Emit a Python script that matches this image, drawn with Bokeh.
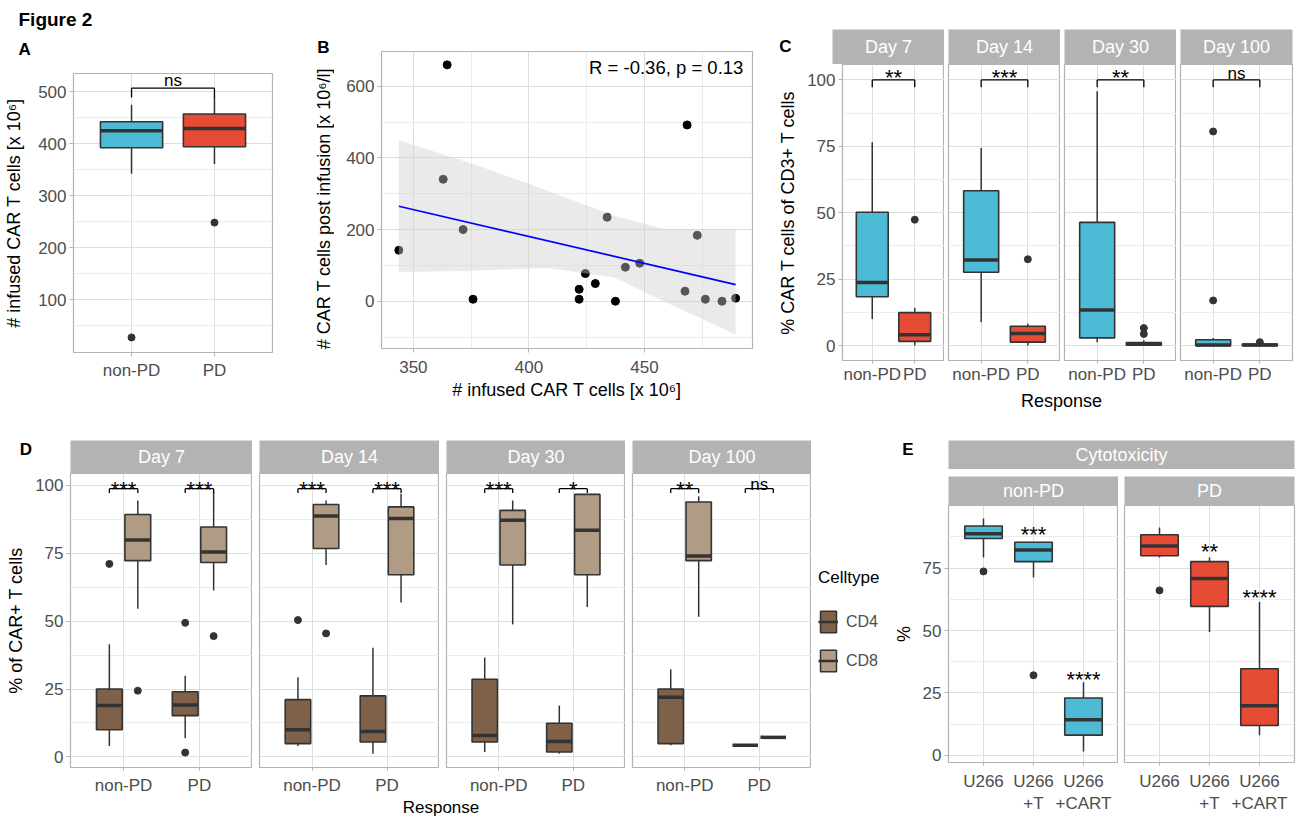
import math
from bokeh.plotting import figure
from bokeh.models import (FactorRange, Range1d, FixedTicker, Label, Legend, LegendItem,
                          ColumnDataSource)
from bokeh.layouts import row, column
from bokeh.transform import dodge
from bokeh.embed import file_html
from bokeh.resources import INLINE
from bokeh.core.properties import value

# ---------------------------------------------------------------- data
# Panel A
A_cats = ["non-PD", "PD"]
A_lower = [342, 361]
A_q1 = [392, 394]
A_median = [425, 429]
A_q3 = [442, 457]
A_upper = [475, 490]
A_out_cat = ["non-PD", "PD"]
A_out_val = [27, 248]
A_sig = ["ns"]
A_sig_y = [521]
A_bracket_y = [507]
A_bracket_tip = [489]

# Panel B
B_x = [364.6, 362.9, 371.5, 343.7, 375.8, 421.7, 421.7, 424.4, 428.7, 433.8,
       437.4, 441.7, 447.9, 468.4, 467.5, 472.8, 476.3, 483.5, 489.4]
B_y = [659.7, 340.4, 200.0, 142.3, 5.5, 33.4, 5.5, 77.3, 49.3, 234.4,
       0.0, 95.0, 106.0, 492.0, 28.0, 184.0, 5.5, 0.0, 8.3]
B_fit_x = [343.7, 489.4]
B_fit_y = [265.0, 46.5]
B_band_x = [343.7, 379.0, 407.8, 436.6, 458.2, 489.4]
B_band_upper = [450, 376, 309, 239, 202, 199]
B_band_lower = [81, 86, 93, 67, 0, -93]
B_stat = "R = -0.36, p = 0.13"

# Panel C
C_days = ["Day 7", "Day 14", "Day 30", "Day 100"]
C_resp = ["non-PD", "PD"]
C_lower = [[10.0, 0.0], [8.8, 0.0], [1.3, 0.0], [0.0, 0.0]]
C_q1 = [[18.4, 1.6], [27.6, 1.3], [2.9, 0.2], [0.0, 0.0]]
C_median = [[23.8, 4.1], [32.2, 4.6], [13.4, 0.5], [0.2, 0.2]]
C_q3 = [[50.2, 12.4], [58.3, 7.3], [46.4, 1.2], [2.2, 0.6]]
C_upper = [[76.5, 14.2], [74.4, 8.2], [95.7, 2.0], [2.9, 1.0]]
C_out_resp = [["PD"], ["PD"], ["PD", "PD"], ["non-PD", "non-PD", "PD"]]
C_out_val = [[47.4], [32.5], [4.4, 6.6], [17.0, 80.6, 1.3]]
C_sig = ["**", "***", "**", "ns"]
C_sig_y = [100.9, 100.9, 100.9, 102.4]
C_bracket_y = 100.0
C_bracket_tip = 97.2

# Panel D
D_days = ["Day 7", "Day 14", "Day 30", "Day 100"]
D_resp = ["non-PD", "non-PD", "PD", "PD"]
D_cell = ["CD4", "CD8", "CD4", "CD8"]
D_lower = [[4.0, 54.6, 6.9, 61.3], [4.0, 70.7, 1.2, 56.9], [1.8, 48.8, 1.2, 55.2], [4.3, 51.6, 4.3, 7.2]]
D_q1 = [[10.0, 72.3, 15.2, 71.6], [4.9, 76.8, 5.5, 67.1], [5.5, 70.7, 1.8, 67.1], [4.9, 72.3, 4.3, 7.2]]
D_median = [[18.9, 79.9, 19.1, 75.5], [10.0, 88.7, 9.4, 87.8], [7.9, 87.2, 5.7, 83.5], [22.0, 74.0, 4.3, 7.2]]
D_q3 = [[25.0, 89.3, 24.0, 84.7], [21.1, 93.0, 22.5, 92.1], [28.6, 90.8, 12.4, 96.7], [25.0, 93.9, 4.3, 7.2]]
D_upper = [[41.5, 94.5, 29.9, 97.6], [29.3, 94.5, 40.2, 96.9], [36.6, 94.5, 18.9, 96.7], [32.3, 96.0, 4.3, 7.2]]
D_out_resp = [["non-PD", "non-PD", "PD", "PD", "PD"], ["non-PD", "non-PD"], [], []]
D_out_cell = [["CD4", "CD8", "CD4", "CD4", "CD8"], ["CD4", "CD8"], [], []]
D_out_val = [[71.1, 24.4, 49.4, 1.6, 44.5], [50.4, 45.5], [], []]
D_sig = [["***", "***"], ["***", "***"], ["***", "*"], ["**", "ns"]]
D_sig_y = [[98.5, 98.5], [98.5, 98.5], [98.5, 98.5], [98.5, 100.3]]
D_bracket_y = 98.8
D_bracket_tip = 97.2
D_celltypes = ["CD4", "CD8"]

# Panel E
E_groups = ["non-PD", "PD"]
E_cats = ["U266", "U266\n+T", "U266\n+CART"]
E_lower = [[79.3, 71.3, 1.6], [79.3, 49.4, 8.1]]
E_q1 = [[86.9, 77.6, 8.1], [80.0, 59.7, 12.0]]
E_median = [[88.8, 82.3, 14.3], [83.9, 70.9, 19.9]]
E_q3 = [[91.9, 85.4, 23.0], [88.4, 77.6, 34.7]]
E_upper = [[94.9, 85.4, 29.3], [91.3, 79.3, 61.4]]
E_out_cat = [["U266", "U266\n+T"], ["U266"]]
E_out_val = [[73.7, 32.1], [66.1]]
E_sig_cat = [["U266\n+T", "U266\n+CART"], ["U266\n+T", "U266\n+CART"]]
E_sig = [["***", "****"], ["**", "****"]]
E_sig_y = [[88.3, 30.3], [81.8, 63.1]]

# ---------------------------------------------------------------- style
FONT = "Liberation Sans"
GRID_MAJOR = "#dedede"
GRID_MINOR = "#ececec"
BORDER = "#b3b3b3"
TICK_TEXT = "#4d4d4d"
DARK = "#333333"
STRIP_FILL = "#b3b3b3"
BLUE = "#4DBBD5"
RED = "#E64B35"
CELL_COLORS = {"CD4": "#7E6148", "CD8": "#B09C85"}
RESP_COLORS = {"non-PD": BLUE, "PD": RED}


def no_align(p):
    if "frame_align" in p.properties():
        p.frame_align = False
    return p


def base_fig(w, h, left, right, top, bottom, x_range, y_range, yticks, yminor):
    p = figure(width=w, height=h, x_range=x_range, y_range=y_range, output_backend="svg",
               toolbar_location=None, min_border_left=left, min_border_right=right,
               min_border_top=top, min_border_bottom=bottom)
    no_align(p)
    p.background_fill_color = "white"
    p.border_fill_color = "white"
    p.outline_line_color = BORDER
    p.outline_line_width = 1.2
    yt = FixedTicker(ticks=yticks, minor_ticks=yminor)
    p.yaxis.ticker = yt
    p.ygrid.ticker = yt
    p.ygrid.grid_line_color = GRID_MAJOR
    p.ygrid.minor_grid_line_color = GRID_MINOR
    p.xgrid.grid_line_color = GRID_MAJOR
    p.axis.axis_line_color = None
    p.axis.major_tick_line_color = BORDER
    p.axis.major_tick_out = 4
    p.axis.major_tick_in = 0
    p.axis.minor_tick_line_color = None
    p.axis.major_label_text_font = FONT
    p.axis.major_label_text_font_size = "17px"
    p.axis.major_label_text_color = TICK_TEXT
    p.axis.axis_label_text_font = FONT
    p.axis.axis_label_text_font_size = "18px"
    p.axis.axis_label_text_font_style = "normal"
    p.axis.axis_label_text_color = "black"
    p.axis.major_label_standoff = 3
    p.axis.axis_label_standoff = 5
    return p


def cat_range(cats):
    return FactorRange(factors=list(cats), range_padding=0.2, range_padding_units="absolute")


def strip_fig(w, h, left, right, top, text):
    s = figure(width=w, height=h, x_range=Range1d(0, 1), y_range=Range1d(0, 1),
               output_backend="svg", toolbar_location=None, x_axis_location=None,
               y_axis_location=None, min_border_left=left, min_border_right=right,
               min_border_top=top, min_border_bottom=0)
    no_align(s)
    s.grid.visible = False
    s.background_fill_color = STRIP_FILL
    s.border_fill_color = "white"
    s.outline_line_color = None
    s.add_layout(Label(x=0.5, y=0.5, text=text, text_align="center", text_baseline="middle",
                       text_color="white", text_font=FONT, text_font_size="18px"))
    return s


def text_fig(w, h):
    s = figure(width=w, height=h, output_backend="svg", toolbar_location=None,
               x_axis_location=None, y_axis_location=None, min_border=0)
    no_align(s)
    s.grid.visible = False
    s.outline_line_color = None
    s.background_fill_color = "white"
    s.border_fill_color = "white"
    return s


def add_text(p, text, x, y, size="18px", bold=False, align="center", angle=0.0):
    p.add_layout(Label(x=x, y=y, x_units="screen", y_units="screen", text=text,
                       text_font=FONT, text_font_size=size,
                       text_font_style="bold" if bold else "normal",
                       text_align=align, text_baseline="middle", angle=angle,
                       text_color="black"))


def boxes(p, cats, lower, q1, med, q3, upper, colors, width, offset=0.0):
    src = ColumnDataSource(dict(x=list(cats), lo=lower, q1=q1, med=med, q3=q3, hi=upper, c=colors))
    xc = dodge("x", offset, range=p.x_range)
    p.segment(x0=xc, y0="lo", x1=xc, y1="hi", source=src, line_color=DARK, line_width=1.5)
    p.vbar(x=dodge("x", offset, range=p.x_range), bottom="q1", top="q3", width=width, source=src,
           fill_color="c", line_color=DARK, line_width=1.6)
    p.segment(x0=dodge("x", offset - width / 2, range=p.x_range), y0="med",
              x1=dodge("x", offset + width / 2, range=p.x_range), y1="med", source=src,
              line_color=DARK, line_width=3.5)


def outliers(p, cats, vals, offset=0.0):
    src = ColumnDataSource(dict(x=list(cats), y=list(vals)))
    p.scatter(x=dodge("x", offset, range=p.x_range), y="y", source=src, size=7, color=DARK)


def sig_source(**cols):
    cols["fs"] = ["22px" if "*" in t else "17px" for t in cols["lab"]]
    return ColumnDataSource(cols)


def sig_text(p, src, x):
    p.text(x=x, y="ly", text="lab", source=src, text_align="center", text_baseline="middle",
           text_font=value(FONT), text_font_size="fs", text_color="black")


def bracket(p, src, xl, xr):
    p.segment(x0=xl, y0="y", x1=xr, y1="y", source=src, line_color="black", line_width=1.3)
    p.segment(x0=xl, y0="y", x1=xl, y1="tip", source=src, line_color="black", line_width=1.3)
    p.segment(x0=xr, y0="y", x1=xr, y1="tip", source=src, line_color="black", line_width=1.3)


# ---------------------------------------------------------------- panel A
headA = text_fig(300, 72)
add_text(headA, "Figure 2", 18, 53.5, size="19px", bold=True, align="left")
add_text(headA, "A", 18, 23, size="17px", bold=True, align="left")

pA = base_fig(300, 340, 73, 28, 1, 60, cat_range(A_cats), Range1d(-2, 535),
              [100, 200, 300, 400, 500], [50, 150, 250, 350, 450])
pA.yaxis.axis_label = "# infused CAR T cells [x 10\u2076]"
pA.yaxis.axis_label_standoff = 11
pA.xaxis.major_label_standoff = 4
boxes(pA, A_cats, A_lower, A_q1, A_median, A_q3, A_upper, [RESP_COLORS[c] for c in A_cats], 0.75)
outliers(pA, A_out_cat, A_out_val)
bA = sig_source(l=[A_cats[0]], r=[A_cats[1]], y=A_bracket_y, tip=A_bracket_tip, lab=A_sig, ly=A_sig_y)
bracket(pA, bA, "l", "r")
sig_text(pA, bA, dodge("l", 0.5, range=pA.x_range))
colA = column(headA, pA)

# ---------------------------------------------------------------- panel B
sideB = text_fig(34, 412)
add_text(sideB, "B", 23, 365, size="17px", bold=True)
add_text(sideB, "# CAR T cells post infusion [x 10\u2076/l]", 23, 204, size="18px", angle=math.pi / 2)

pB = base_fig(441, 412, 47, 23, 51, 64, Range1d(336.2, 496.7), Range1d(-132, 697),
              [0, 200, 400, 600], [-100, 100, 300, 500])
xtB = FixedTicker(ticks=[350, 400, 450], minor_ticks=[375, 425, 475])
pB.xaxis.ticker = xtB
pB.xgrid.ticker = xtB
pB.xgrid.minor_grid_line_color = GRID_MINOR
pB.xaxis.axis_label = "# infused CAR T cells [x 10\u2076]"
pB.xaxis.major_label_standoff = 8
pB.xaxis.axis_label_standoff = 4
pB.scatter(B_x, B_y, size=8, color="black")
pB.varea(x=B_band_x, y1=B_band_lower, y2=B_band_upper, fill_color="#cccccc", fill_alpha=0.42)
pB.line(B_fit_x, B_fit_y, line_color="#0000ff", line_width=1.7)
pB.add_layout(Label(x=426, y=652, text=B_stat, text_font=FONT, text_font_size="18.5px",
                    text_align="left", text_baseline="middle", text_color="black"))
colB = row(sideB, pB)

# ---------------------------------------------------------------- panel C
C_strip_w = [112, 116, 116, 120]
C_fig_w = [169, 116, 116, 120]
C_lefts = [57, 4, 4, 4]
C_rights = [0, 0, 0, 4]
letterC = text_fig(57, 64)
add_text(letterC, "C", 10, 18.5, size="17px", bold=True)
C_strips = [letterC]
C_figs = []
for i, day in enumerate(C_days):
    p = base_fig(C_fig_w[i], 325, C_lefts[i], C_rights[i], 0, 29, cat_range(C_resp),
                 Range1d(-5.6, 105.8), [0, 25, 50, 75, 100], [12.5, 37.5, 62.5, 87.5])
    p.xaxis.major_tick_out = 3
    p.xaxis.major_label_standoff = 1
    if i == 0:
        p.yaxis.axis_label = "% CAR T cells of CD3+ T cells"
        p.yaxis.axis_label_standoff = 6
    else:
        p.yaxis.visible = False
    boxes(p, C_resp, C_lower[i], C_q1[i], C_median[i], C_q3[i], C_upper[i],
          [RESP_COLORS[c] for c in C_resp], 0.75)
    outliers(p, C_out_resp[i], C_out_val[i])
    bs = sig_source(l=[C_resp[0]], r=[C_resp[1]], y=[C_bracket_y], tip=[C_bracket_tip],
                    lab=[C_sig[i]], ly=[C_sig_y[i]])
    bracket(p, bs, "l", "r")
    sig_text(p, bs, dodge("l", 0.5, range=p.x_range))
    C_figs.append(p)
    C_strips.append(strip_fig(C_strip_w[i], 64, 0 if i == 0 else 4, C_rights[i], 29, day))
respC = text_fig(521, 23)
add_text(respC, "Response", 286, 12, size="18px")
blockC = column(row(*C_strips), row(*C_figs), respC)

# ---------------------------------------------------------------- panel D
D_strip_w = [182, 187, 186, 186]
D_fig_w = [252, 187, 186, 186]
D_lefts = [70, 7, 7, 7]
D_offsets = {"CD4": -0.1875, "CD8": 0.1875}
letterD = text_fig(70, 61)
add_text(letterD, "D", 25.5, 24.5, size="17px", bold=True)
D_strips = [letterD]
D_figs = []
for i, day in enumerate(D_days):
    p = base_fig(D_fig_w[i], 324, D_lefts[i], 0, 0, 28, cat_range(["non-PD", "PD"]),
                 Range1d(-3.9, 104.4), [0, 25, 50, 75, 100], [12.5, 37.5, 62.5, 87.5])
    p.xaxis.major_tick_out = 3
    p.xaxis.major_label_standoff = 5
    if i == 0:
        p.yaxis.axis_label = "% of CAR+ T cells"
        p.yaxis.axis_label_standoff = 6
    else:
        p.yaxis.visible = False
    for cell in D_celltypes:
        idx = [k for k in range(4) if D_cell[k] == cell]
        boxes(p, [D_resp[k] for k in idx], [D_lower[i][k] for k in idx], [D_q1[i][k] for k in idx],
              [D_median[i][k] for k in idx], [D_q3[i][k] for k in idx], [D_upper[i][k] for k in idx],
              [CELL_COLORS[cell]] * len(idx), 0.34, D_offsets[cell])
        oi = [k for k in range(len(D_out_val[i])) if D_out_cell[i][k] == cell]
        outliers(p, [D_out_resp[i][k] for k in oi], [D_out_val[i][k] for k in oi], D_offsets[cell])
    bs = sig_source(x=["non-PD", "PD"], y=[D_bracket_y] * 2, tip=[D_bracket_tip] * 2,
                    lab=D_sig[i], ly=D_sig_y[i])
    bracket(p, bs, dodge("x", D_offsets["CD4"], range=p.x_range),
            dodge("x", D_offsets["CD8"], range=p.x_range))
    sig_text(p, bs, "x")
    D_figs.append(p)
    D_strips.append(strip_fig(D_strip_w[i], 61, 0 if i == 0 else 7, 0, 28, day))
respD = text_fig(811, 19)
add_text(respD, "Response", 440.5, 9.5, size="17px")
blockD = column(row(*D_strips), row(*D_figs), respD)

# legend for D
pL = figure(width=69, height=404, output_backend="svg", toolbar_location=None,
            x_axis_location=None, y_axis_location=None, min_border=0,
            x_range=FactorRange(*D_celltypes), y_range=Range1d(0, 1))
no_align(pL)
pL.grid.visible = False
pL.outline_line_color = None
items = []
for cell in D_celltypes:
    rv = pL.vbar(x=[cell], top=[0], bottom=[0], width=0.1, fill_color=CELL_COLORS[cell],
                 line_color=DARK, line_width=1.5, visible=False)
    rm = pL.segment(x0=[cell], y0=[0], x1=[cell], y1=[0], line_color=DARK, line_width=2.5,
                    visible=False)
    items.append(LegendItem(label=cell, renderers=[rv, rm]))
leg = Legend(items=items, title="Celltype", location=(7, 142), orientation="vertical",
             glyph_width=20, glyph_height=27, spacing=12, padding=0, margin=0,
             label_standoff=8, title_standoff=20, border_line_color=None,
             background_fill_alpha=0, label_text_font=FONT, label_text_font_size="16px",
             label_text_color=TICK_TEXT, title_text_font=FONT, title_text_font_size="17px",
             title_text_font_style="normal", title_text_color="black", click_policy="none")
pL.add_layout(leg)

# ---------------------------------------------------------------- panel E
E_widths = [238, 178]
E_lefts = [68, 6]
E_rights = [0, 2]
letterE = text_fig(68, 57)
add_text(letterE, "E", 27.5, 20, size="17px", bold=True)
cyto = strip_fig(348, 57, 0, 2, 28, "Cytotoxicity")
E_cols = []
for i, grp in enumerate(E_groups):
    p = base_fig(E_widths[i], 311, E_lefts[i], E_rights[i], 0, 47, cat_range(E_cats),
                 Range1d(-2.85, 100.1), [0, 25, 50, 75], [12.5, 37.5, 62.5, 87.5])
    p.xaxis.major_tick_out = 3
    p.xaxis.major_label_standoff = 6
    if i == 0:
        p.yaxis.axis_label = "%"
        p.yaxis.axis_label_standoff = 6
    else:
        p.yaxis.visible = False
    boxes(p, E_cats, E_lower[i], E_q1[i], E_median[i], E_q3[i], E_upper[i],
          [RESP_COLORS[grp]] * 3, 0.75)
    outliers(p, E_out_cat[i], E_out_val[i])
    ss = sig_source(x=E_sig_cat[i], lab=E_sig[i], ly=E_sig_y[i])
    sig_text(p, ss, "x")
    s = strip_fig(E_widths[i], 36, E_lefts[i], E_rights[i], 7, grp)
    E_cols.append(column(s, p))
blockE = column(row(letterE, cyto), row(*E_cols))

# ---------------------------------------------------------------- layout
top = row(colA, colB, blockC)
bottom = row(blockD, pL, blockE)
root = column(top, bottom)

with open("out.html", "w") as f:
    f.write(file_html(root, INLINE, "Figure 2"))
